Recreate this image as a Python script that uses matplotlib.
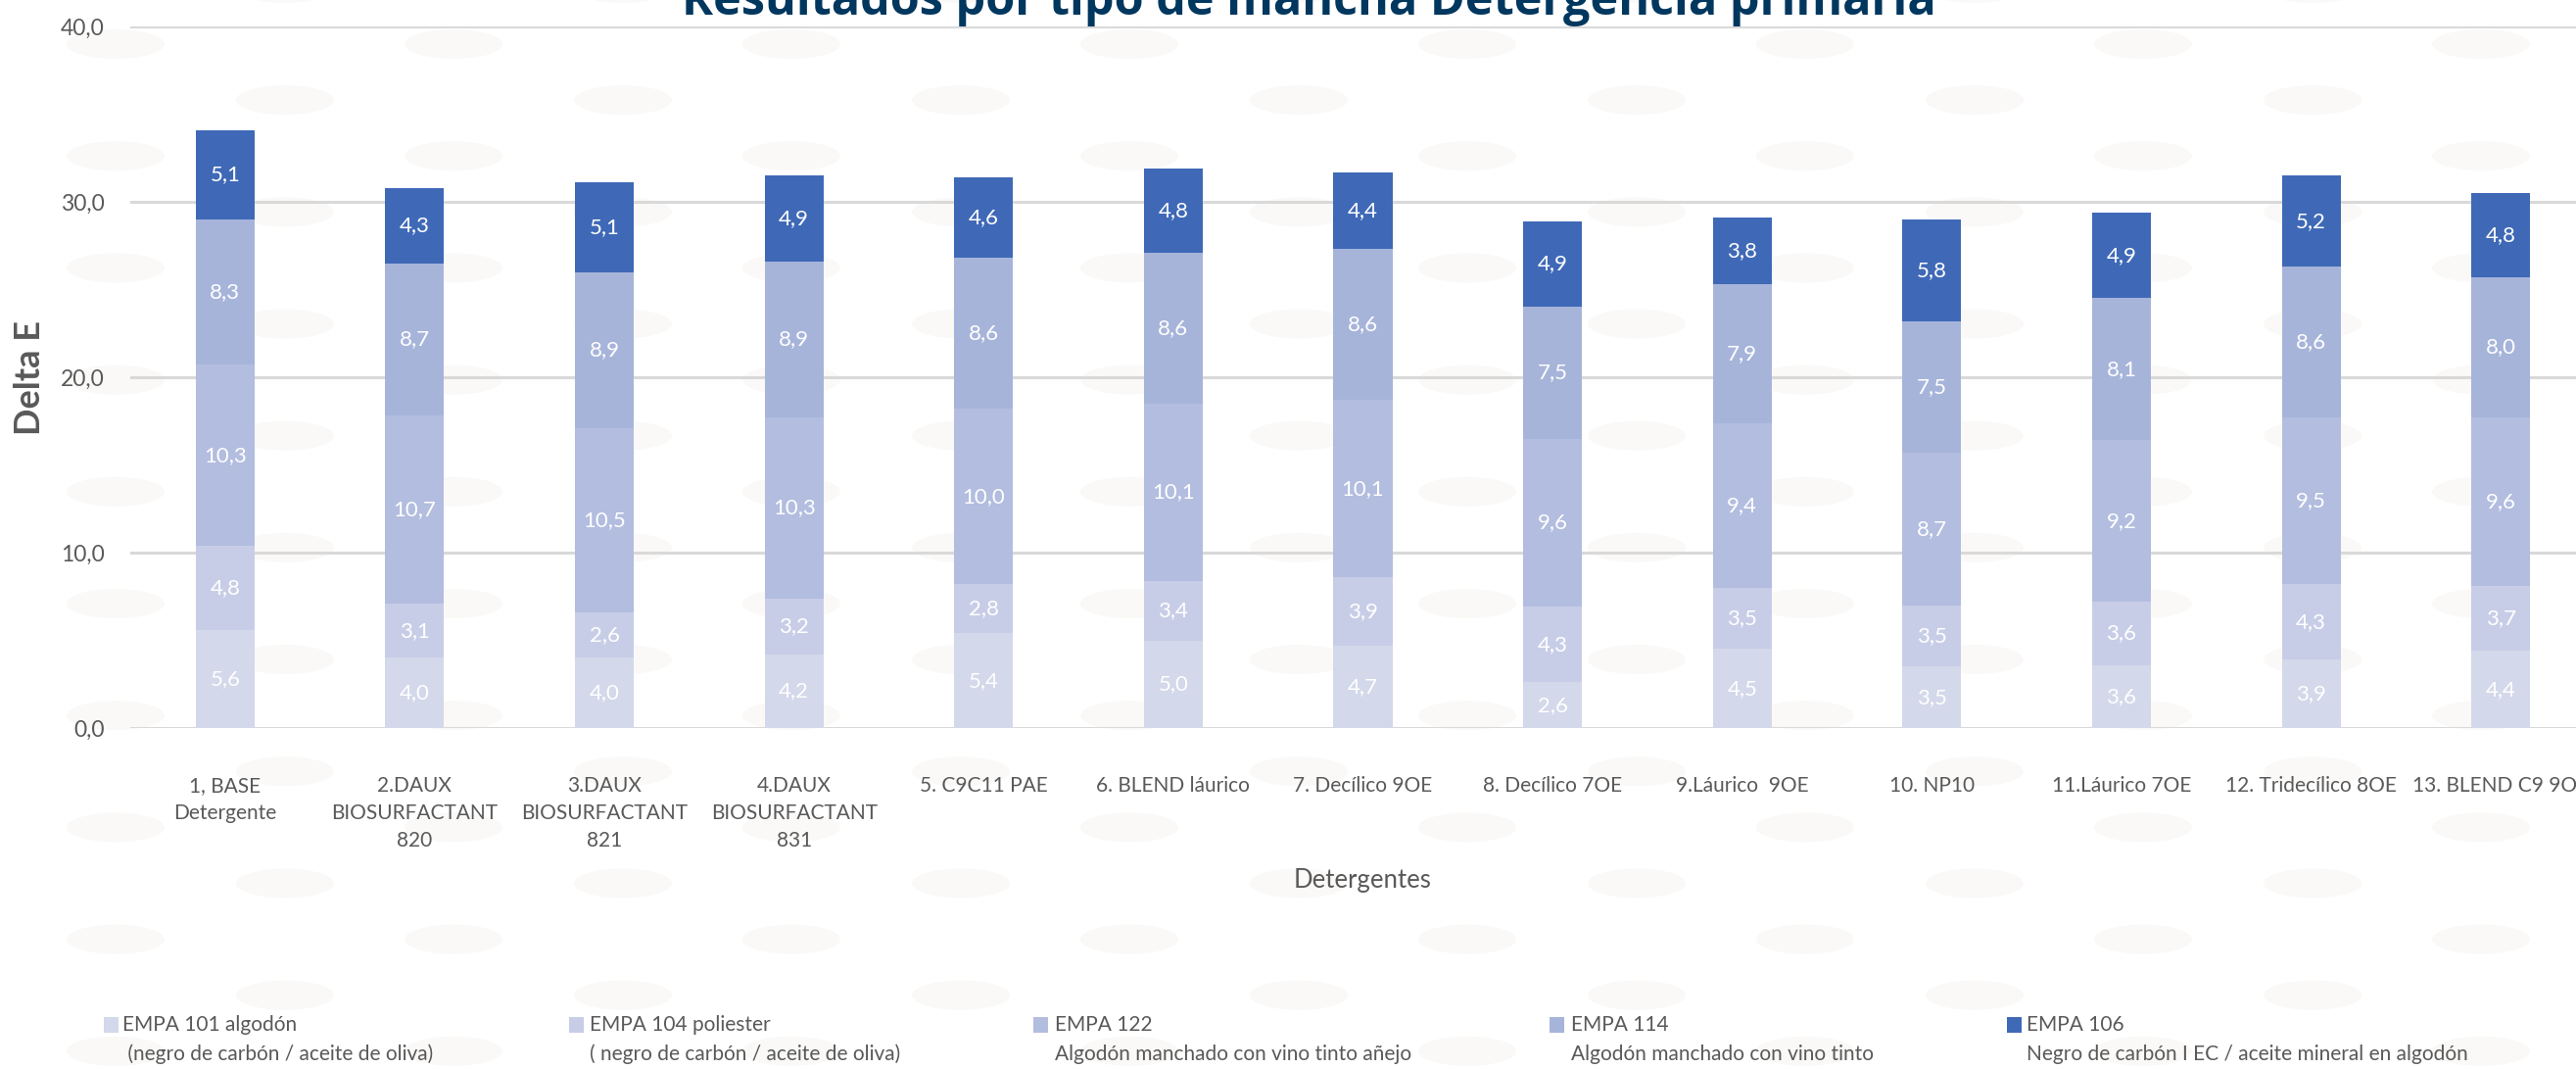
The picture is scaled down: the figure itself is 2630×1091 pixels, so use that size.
import matplotlib
matplotlib.use("Agg")
import matplotlib.pyplot as plt
from matplotlib.patches import Ellipse, Rectangle
from matplotlib.ticker import FuncFormatter
import numpy as np

# ---------------- data ----------------
categories = [
    "1, BASE\nDetergente",
    "2.DAUX\nBIOSURFACTANT\n820",
    "3.DAUX\nBIOSURFACTANT\n821",
    "4.DAUX\nBIOSURFACTANT\n831",
    "5. C9C11 PAE",
    "6. BLEND láurico",
    "7. Decílico 9OE",
    "8. Decílico 7OE",
    "9.Láurico  9OE",
    "10. NP10",
    "11.Láurico 7OE",
    "12. Tridecílico 8OE",
    "13. BLEND C9 9OE",
]
empa101 = [5.6, 4.0, 4.0, 4.2, 5.4, 5.0, 4.7, 2.6, 4.5, 3.5, 3.6, 3.9, 4.4]
empa104 = [4.8, 3.1, 2.6, 3.2, 2.8, 3.4, 3.9, 4.3, 3.5, 3.5, 3.6, 4.3, 3.7]
empa122 = [10.3, 10.7, 10.5, 10.3, 10.0, 10.1, 10.1, 9.6, 9.4, 8.7, 9.2, 9.5, 9.6]
empa114 = [8.3, 8.7, 8.9, 8.9, 8.6, 8.6, 8.6, 7.5, 7.9, 7.5, 8.1, 8.6, 8.0]
empa106 = [5.1, 4.3, 5.1, 4.9, 4.6, 4.8, 4.4, 4.9, 3.8, 5.8, 4.9, 5.2, 4.8]

series_line1 = ["EMPA 101 algodón", "EMPA 104 poliester", "EMPA 122", "EMPA 114", "EMPA 106"]
series_line2 = [" (negro de carbón / aceite de oliva)",
                "( negro de carbón / aceite de oliva)",
                "Algodón manchado con vino tinto añejo",
                "Algodón manchado con vino tinto",
                "Negro de carbón I EC / aceite mineral en algodón"]
series_colors = ["#D3D8EA", "#C8CDE7", "#B2BDDF", "#A7B4DA", "#3F69B7"]
y_ticks = [0, 10, 20, 30, 40]

title = "Resultados por tipo de mancha Detergencia primaria"
y_title = "Delta E"
x_title = "Detergentes"

# ---------------- style ----------------
plt.rcParams['font.family'] = ['Lato', 'DejaVu Sans']
TXT = "#595959"
W, H = 2630, 1091

fig = plt.figure(figsize=(W / 100, H / 100), dpi=100)
fig.patch.set_facecolor("white")

# faint decorative ellipse pattern in background
row_y0, row_dy, col_dx = 45, 57.1, 345
for k in range(-1, 20):
    yc = row_y0 + k * row_dy
    x0 = 118 if k % 2 == 0 else 291
    for j in range(-1, 9):
        xc = x0 + j * col_dx
        e = Ellipse((xc / W, 1 - yc / H), 100 / W, 30 / H, transform=fig.transFigure,
                    facecolor="#FAF9F7", edgecolor="none", zorder=-10)
        fig.add_artist(e)

ax = fig.add_axes([133 / W, 1 - 743 / H, 2517 / W, (743 - 27) / H])
ax.set_facecolor("none")

x = np.arange(len(categories))
series = [empa101, empa104, empa122, empa114, empa106]
bottom = np.zeros(len(categories))
for vals, col in zip(series, series_colors):
    vals = np.array(vals)
    bc = ax.bar(x, vals, width=0.31, bottom=bottom, color=col, edgecolor="none", zorder=3)
    ax.bar_label(bc, labels=[f"{v:.1f}".replace(".", ",") for v in vals],
                 label_type="center", color="white", fontsize=16, zorder=4)
    bottom += vals

ax.set_xlim(-0.5, len(categories) - 0.5)
ax.set_ylim(0, 40)
ax.set_yticks(y_ticks)
ax.yaxis.set_major_formatter(FuncFormatter(lambda v, p: f"{v:.1f}".replace(".", ",")))
ax.grid(axis="y", color="#D9D9D9", linewidth=2.2, zorder=1)
ax.set_axisbelow(True)
for s in ax.spines.values():
    s.set_visible(False)
ax.tick_params(axis="both", length=0)
ax.tick_params(axis="y", labelsize=16.5, labelcolor=TXT, pad=19)
ax.set_xticks(x)
ax.set_xticklabels(categories, fontsize=15, color=TXT, linespacing=1.5, va="top")
ax.tick_params(axis="x", pad=35)

ax.set_ylabel(y_title, fontsize=26, fontweight="bold", color=TXT)
ax.yaxis.set_label_coords(-0.034, 0.5)
ax.set_xlabel(x_title, fontsize=18.5, color=TXT)
ax.xaxis.set_label_coords(0.5, -0.20)

fig.text(1336 / W, 1 - 15 / H, title, ha="center", va="baseline",
         fontsize=35, fontweight="bold", color="#00375F", family=["Open Sans", "DejaVu Sans"])

# legend (manual layout to mirror the reference)
leg_sq_x = [106, 581, 1055, 1582, 2049]
leg_txt_x = [125, 602, 1077, 1604, 2069]
for i in range(5):
    fig.add_artist(Rectangle((leg_sq_x[i] / W, 1 - 1054 / H), 15 / W, 16 / H,
                             transform=fig.transFigure, facecolor=series_colors[i],
                             edgecolor="none"))
    fig.text(leg_txt_x[i] / W, 1 - 1046 / H, series_line1[i], ha="left", va="center",
             fontsize=15, color=TXT)
    fig.text(leg_txt_x[i] / W, 1 - 1076 / H, series_line2[i], ha="left", va="center",
             fontsize=15, color=TXT)

fig.savefig("out.png", dpi=100)
